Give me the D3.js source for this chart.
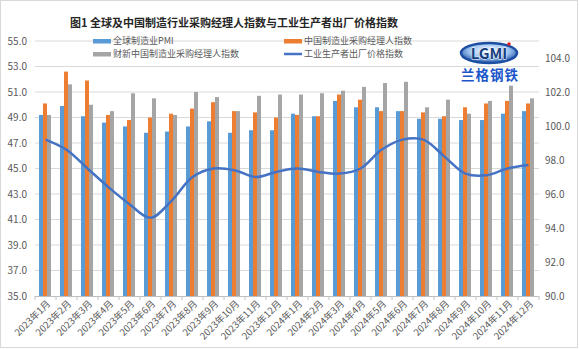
<!DOCTYPE html>
<html><head><meta charset="utf-8">
<script src="https://cdn.jsdelivr.net/npm/d3@7/dist/d3.min.js"></script>
<style>body{margin:0;background:#fff}svg{display:block}text{font-family:"Noto Sans CJK SC","Noto Sans",sans-serif}</style>
</head><body><svg id="c" width="579" height="350"></svg>
<script>
const months = ["2023年1月","2023年2月","2023年3月","2023年4月","2023年5月","2023年6月","2023年7月","2023年8月","2023年9月","2023年10月","2023年11月","2023年12月","2024年1月","2024年2月","2024年3月","2024年4月","2024年5月","2024年6月","2024年7月","2024年8月","2024年9月","2024年10月","2024年11月","2024年12月"];
const globalPMI = [49.2,49.9,49.1,48.6,48.3,47.8,47.9,48.3,48.7,47.8,48.0,48.0,49.3,49.1,50.3,49.8,49.8,49.5,48.9,48.9,48.8,48.8,49.3,49.5];
const chinaPMI  = [50.1,52.6,51.9,49.2,48.8,49.0,49.3,49.7,50.2,49.5,49.4,49.0,49.2,49.1,50.8,50.4,49.5,49.5,49.4,49.1,49.8,50.1,50.3,50.1];
const caixinPMI = [49.2,51.6,50.0,49.5,50.9,50.5,49.2,51.0,50.6,49.5,50.7,50.8,50.8,50.9,51.1,51.4,51.7,51.8,49.8,50.4,49.3,50.3,51.5,50.5];
const ppi       = [99.2,98.6,97.5,96.4,95.4,94.6,95.6,97.0,97.5,97.4,97.0,97.3,97.5,97.3,97.2,97.5,98.6,99.2,99.2,98.2,97.2,97.1,97.5,97.7];
const leftTicks = [35,37,39,41,43,45,47,49,51,53,55];
const rightTicks = [90,92,94,96,98,100,102,104];
const seriesNames = ["全球制造业PMI","中国制造业采购经理人指数","财新中国制造业采购经理人指数","工业生产者出厂价格指数"];
const titleText = "图1 全球及中国制造行业采购经理人指数与工业生产者出厂价格指数";

const colors = ["#5B9BD5","#ED7D31","#A5A5A5","#4472C4"];
const svg = d3.select("#c");
const L=35, R=539, T=41, B=296;

svg.append("rect").attr("x",0.5).attr("y",0.5).attr("width",577).attr("height",347)
  .attr("fill","#fff").attr("stroke","#d9d9d9");

const x = d3.scaleBand().domain(months).range([L,R]).padding(0);
const yL = d3.scaleLinear().domain([35,55]).range([B,T]);
const yR = d3.scaleLinear().domain([90,105]).range([B,T]);

svg.append("g").selectAll("line").data(leftTicks.slice(1)).join("line")
  .attr("x1",L).attr("x2",R).attr("y1",d=>yL(d)).attr("y2",d=>yL(d))
  .attr("stroke","#d9d9d9").attr("stroke-width",1);

const axL = d3.axisLeft(yL).tickValues(leftTicks).tickFormat(d3.format(".1f")).tickSize(0).tickPadding(8);
const gL = svg.append("g").attr("transform",`translate(${L},0)`).call(axL);
gL.select(".domain").remove();
gL.selectAll("text").attr("font-size",10).attr("fill","#595959").attr("x",-8);

const axR = d3.axisRight(yR).tickValues(rightTicks).tickFormat(d3.format(".1f")).tickSize(0).tickPadding(6);
const gR = svg.append("g").attr("transform",`translate(${R},0)`).call(axR);
gR.select(".domain").remove();
gR.selectAll("text").attr("font-size",10).attr("fill","#595959");

const bw = 4, gw = 12;
[globalPMI, chinaPMI, caixinPMI].forEach((arr,si)=>{
  svg.append("g").selectAll("rect").data(arr).join("rect")
    .attr("x",(d,i)=>x(months[i]) + x.bandwidth()/2 - gw/2 + si*bw - 0.5)
    .attr("width",bw)
    .attr("y",d=>yL(d)).attr("height",d=>yL(35)-yL(d))
    .attr("fill",colors[si]);
});

svg.append("line").attr("x1",L).attr("x2",R).attr("y1",B+0.5).attr("y2",B+0.5).attr("stroke","#bfbfbf");
svg.append("g").selectAll("line").data(months.concat(["end"])).join("line")
  .attr("x1",(d,i)=>L + i*x.bandwidth()).attr("x2",(d,i)=>L + i*x.bandwidth())
  .attr("y1",B).attr("y2",B+4).attr("stroke","#bfbfbf");
svg.append("g").selectAll("text").data(months).join("text")
  .attr("transform",d=>`translate(${x(d)+x.bandwidth()/2+3},${B+6}) rotate(-45)`)
  .attr("text-anchor","end").attr("dy","0.35em")
  .attr("font-size",9.5).attr("fill","#595959").text(d=>d);

const line = d3.line().x((d,i)=>x(months[i])+x.bandwidth()/2).y(d=>yR(d)).curve(d3.curveCatmullRom.alpha(0.5));
svg.append("path").datum(ppi).attr("d",line).attr("fill","none")
  .attr("stroke",colors[3]).attr("stroke-width",2.5).attr("stroke-linejoin","round");

svg.append("text").attr("x",234).attr("y",27).attr("text-anchor","middle")
  .attr("font-size",11).attr("font-weight","bold").attr("fill","#262626").text(titleText);

const leg = [{x:93,y:41,i:0},{x:284,y:41,i:1},{x:93,y:54,i:2},{x:284,y:54,i:3}];
leg.forEach(l=>{
  if(l.i<3){
    svg.append("rect").attr("x",l.x).attr("y",l.y-2).attr("width",18).attr("height",4.5).attr("fill",colors[l.i]);
  } else {
    svg.append("line").attr("x1",l.x).attr("x2",l.x+18).attr("y1",l.y).attr("y2",l.y)
      .attr("stroke",colors[3]).attr("stroke-width",2.5);
  }
  svg.append("text").attr("x",l.x+20).attr("y",l.y).attr("dy","0.35em")
    .attr("font-size",9).attr("fill","#595959").text(seriesNames[l.i]);
});

// logo
const defs = svg.append("defs");
const gr = defs.append("radialGradient").attr("id","lg").attr("cx","50%").attr("cy","40%").attr("r","60%");
gr.append("stop").attr("offset","0%").attr("stop-color","#ffffff");
gr.append("stop").attr("offset","60%").attr("stop-color","#9cc3f0");
gr.append("stop").attr("offset","100%").attr("stop-color","#1c4fa3");
const lg = svg.append("g");
lg.append("ellipse").attr("cx",489).attr("cy",53).attr("rx",28).attr("ry",10)
  .attr("fill","url(#lg)").attr("stroke","#1c4fa3").attr("stroke-width",2.5);
lg.append("text").attr("x",489).attr("y",58.5).attr("text-anchor","middle")
  .attr("font-size",15).attr("font-weight","bold").attr("fill","#17407f")
  .attr("stroke","#fff").attr("stroke-width",0.8).attr("paint-order","stroke")
  .attr("font-family","DejaVu Sans, sans-serif").text("LGMI");
lg.append("circle").attr("cx",509).attr("cy",44).attr("r",1.8).attr("fill","#e02020");
lg.append("text").attr("x",490).attr("y",80).attr("text-anchor","middle")
  .attr("font-size",13.5).attr("font-weight","bold").attr("fill","#1a55c9").attr("letter-spacing",1).text("兰格钢铁");
</script></body></html>
